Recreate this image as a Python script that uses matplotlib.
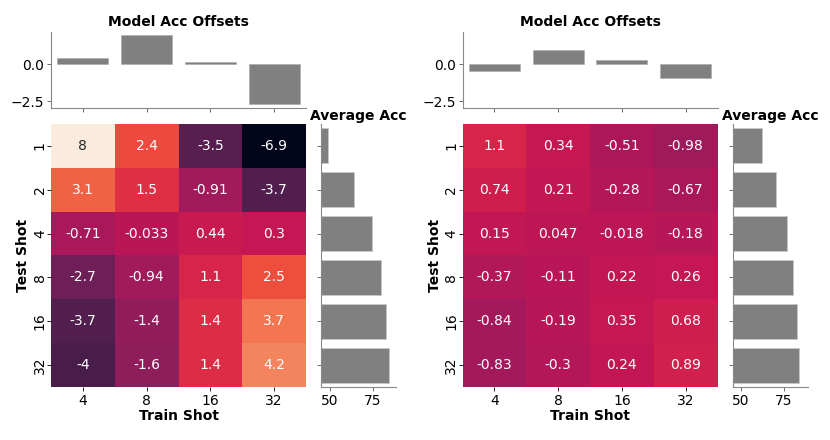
import matplotlib
matplotlib.use("Agg")
import matplotlib.pyplot as plt
import numpy as np
import seaborn as sns

train_shots = [4, 8, 16, 32]
test_shots = [1, 2, 4, 8, 16, 32]

# heatmap values (rows = test shot, cols = train shot)
left_vals = np.array([
    [8, 2.4, -3.5, -6.9],
    [3.1, 1.5, -0.91, -3.7],
    [-0.71, -0.033, 0.44, 0.3],
    [-2.7, -0.94, 1.1, 2.5],
    [-3.7, -1.4, 1.4, 3.7],
    [-4, -1.6, 1.4, 4.2],
])
right_vals = np.array([
    [1.1, 0.34, -0.51, -0.98],
    [0.74, 0.21, -0.28, -0.67],
    [0.15, 0.047, -0.018, -0.18],
    [-0.37, -0.11, 0.22, 0.26],
    [-0.84, -0.19, 0.35, 0.68],
    [-0.83, -0.3, 0.24, 0.89],
])

left_offsets = [0.42, 1.97, 0.15, -2.67]
right_offsets = [-0.46, 0.93, 0.27, -0.91]

left_avg = [49.2, 64.4, 74.4, 80.1, 83.0, 84.3]
right_avg = [62.0, 70.2, 76.6, 80.4, 82.7, 83.7]

vmin = min(left_vals.min(), right_vals.min())
vmax = max(left_vals.max(), right_vals.max())
all_off = left_offsets + right_offsets
off_lim = (min(all_off) * 1.1, max(all_off) * 1.1)

W, H = 830, 440
fig = plt.figure(figsize=(8.3, 4.4), dpi=100)


def px_axes(x, y, w, h):
    return fig.add_axes([x / W, 1 - (y + h) / H, w / W, h / H])


def panel(x0, vals, offsets, avg, side_x):
    ax_h = px_axes(x0, 124, 255, 263)
    ax_t = px_axes(x0, 32, 255, 76)
    ax_s = px_axes(side_x, 124, 75, 263)

    sns.heatmap(vals, ax=ax_h, cmap="rocket", vmin=vmin, vmax=vmax,
                annot=True, cbar=False, annot_kws={"size": 10},
                xticklabels=train_shots, yticklabels=test_shots)
    ax_h.set_yticklabels(test_shots, rotation=90, va="center", fontsize=10)
    ax_h.set_xticklabels(train_shots, fontsize=10)
    ax_h.set_xlabel("Train Shot", fontsize=10, fontweight="bold", labelpad=1)
    ax_h.set_ylabel("Test Shot", fontsize=10, fontweight="bold", labelpad=2)

    xs = np.arange(len(offsets)) + 0.5
    ax_t.bar(xs, offsets, width=0.8, color="gray", edgecolor="#a8a8a8", linewidth=0.4)
    ax_t.set_xlim(0, len(offsets))
    ax_t.set_ylim(*off_lim)
    ax_t.set_xticks(xs)
    ax_t.set_xticklabels([])
    ax_t.set_yticks([0.0, -2.5])
    ax_t.set_yticklabels(["0.0", "\u22122.5"], fontsize=10)
    ax_t.set_title("Model Acc Offsets", fontsize=10, fontweight="bold", pad=4)

    ys = np.arange(len(avg)) + 0.5
    ax_s.barh(ys, avg, height=0.8, color="gray", edgecolor="#c8c8c8", linewidth=0.5)
    ax_s.set_ylim(len(avg), 0)
    ax_s.set_xlim(45, 88.6)
    ax_s.set_yticks(ys)
    ax_s.set_yticklabels([])
    ax_s.set_xticks([50, 75])
    ax_s.set_xticklabels(["50", "75"], fontsize=10)
    ax_s.set_title("Average Acc", fontsize=10, fontweight="bold", pad=3)

    for a in (ax_t, ax_s):
        a.spines["top"].set_visible(False)
        a.spines["right"].set_visible(False)
        for s in ("left", "bottom"):
            a.spines[s].set_color("#888888")
            a.spines[s].set_linewidth(0.8)
        a.tick_params(length=3, width=0.6, color="#555555", pad=2)
    ax_h.tick_params(axis="x", length=3, width=0.6, pad=2)
    ax_h.tick_params(axis="y", length=3, width=0.6, pad=0)


panel(51, left_vals, left_offsets, left_avg, 321)
panel(462.5, right_vals, right_offsets, right_avg, 732.5)

fig.savefig("out.png", dpi=100)
